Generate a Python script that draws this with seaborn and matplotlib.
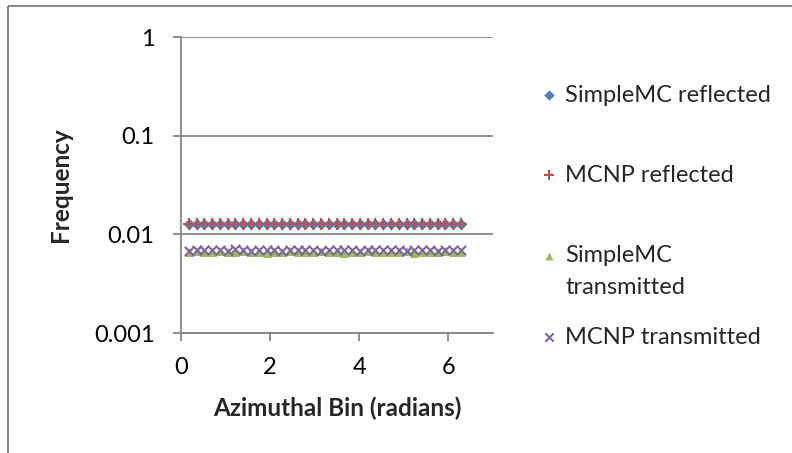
import matplotlib
matplotlib.use("Agg")
import matplotlib.pyplot as plt
from matplotlib.patches import Rectangle
import seaborn as sns
import pandas as pd

# Azimuthal bin positions (radians), 36 bins over 0..2*pi
bins = [0.175, 0.349, 0.524, 0.698, 0.873, 1.047, 1.222, 1.396, 1.571, 1.745,
        1.920, 2.094, 2.269, 2.443, 2.618, 2.793, 2.967, 3.142, 3.316, 3.491,
        3.665, 3.840, 4.014, 4.189, 4.363, 4.538, 4.712, 4.887, 5.061, 5.236,
        5.411, 5.585, 5.760, 5.934, 6.109, 6.283]

simplemc_reflected = [0.0127, 0.0126, 0.0127, 0.0128, 0.0127, 0.0126, 0.0127, 0.0127, 0.0126, 0.0127,
                      0.0128, 0.0127, 0.0126, 0.0127, 0.0127, 0.0126, 0.0127, 0.0128, 0.0127, 0.0126,
                      0.0127, 0.0127, 0.0128, 0.0126, 0.0127, 0.0127, 0.0126, 0.0127, 0.0128, 0.0127,
                      0.0126, 0.0127, 0.0127, 0.0126, 0.0127, 0.0127]
mcnp_reflected = [0.0127, 0.0127, 0.0126, 0.0127, 0.0127, 0.0127, 0.0126, 0.0127, 0.0127, 0.0127,
                  0.0127, 0.0126, 0.0127, 0.0127, 0.0127, 0.0127, 0.0126, 0.0127, 0.0127, 0.0127,
                  0.0126, 0.0127, 0.0127, 0.0127, 0.0127, 0.0126, 0.0127, 0.0127, 0.0127, 0.0126,
                  0.0127, 0.0127, 0.0127, 0.0127, 0.0126, 0.0127]
simplemc_transmitted = [0.0066, 0.0067, 0.0066, 0.0066, 0.0067, 0.0066, 0.0066, 0.0067, 0.0066, 0.0066,
                        0.0065, 0.0066, 0.0066, 0.0067, 0.0066, 0.0066, 0.0066, 0.0067, 0.0066, 0.0066,
                        0.0065, 0.0066, 0.0066, 0.0067, 0.0066, 0.0066, 0.0066, 0.0066, 0.0067, 0.0065,
                        0.0066, 0.0066, 0.0066, 0.0067, 0.0066, 0.0066]
mcnp_transmitted = [0.0068, 0.0069, 0.0069, 0.0070, 0.0069, 0.0068, 0.0071, 0.0069, 0.0068, 0.0069,
                    0.0069, 0.0069, 0.0068, 0.0069, 0.0069, 0.0069, 0.0069, 0.0068, 0.0069, 0.0069,
                    0.0069, 0.0069, 0.0068, 0.0070, 0.0069, 0.0069, 0.0069, 0.0069, 0.0068, 0.0069,
                    0.0069, 0.0069, 0.0068, 0.0069, 0.0069, 0.0069]

series = [
    ("SimpleMC reflected", ["SimpleMC reflected"], simplemc_reflected, "D", "#4F81BD", 36),
    ("MCNP reflected", ["MCNP reflected"], mcnp_reflected, "+", "#C0504D", 70),
    ("SimpleMC transmitted", ["SimpleMC", "transmitted"], simplemc_transmitted, "^", "#9BBB59", 42),
    ("MCNP transmitted", ["MCNP transmitted"], mcnp_transmitted, "x", "#8064A2", 45),
]

y_ticks = [0.001, 0.01, 0.1, 1]
y_tick_labels = ["0.001", "0.01", "0.1", "1"]
x_ticks = [0, 2, 4, 6]

sns.set_theme(style="white")
plt.rcParams["font.family"] = ["Lato", "DejaVu Sans"]

grey = "#868686"
fs = 17
fig = plt.figure(figsize=(7.92, 4.53), dpi=100)
ax = fig.add_axes([181 / 792, 1 - 333 / 453, (493 - 181) / 792, (333 - 37) / 453])

for name, _, vals, mk, col, sz in series:
    df = pd.DataFrame({"bin": bins, "freq": vals})
    lw = 1.5 if mk in ("+", "x") else 0
    sns.scatterplot(data=df, x="bin", y="freq", marker=mk, color=col, s=sz,
                    linewidth=lw, ax=ax, zorder=3, legend=False)

ax.set_yscale("log")
ax.set_ylim(0.001, 1)
ax.set_xlim(0, 7)
ax.set_yticks(y_ticks)
ax.set_yticklabels(y_tick_labels)
ax.set_xticks(x_ticks)
ax.minorticks_off()
ax.yaxis.grid(True, color=grey, linewidth=1.3)
ax.xaxis.grid(False)
for s in ("top", "right"):
    ax.spines[s].set_visible(False)
for s in ("left", "bottom"):
    ax.spines[s].set_color(grey)
    ax.spines[s].set_linewidth(1.3)
ax.tick_params(axis="y", direction="out", length=6, width=1.3, color=grey,
               pad=13, labelsize=fs, labelcolor="black", left=True)
ax.tick_params(axis="x", direction="out", length=6, width=1.3, color=grey,
               pad=11, labelsize=fs, labelcolor="black", bottom=True)
ax.set_xlabel("Azimuthal Bin (radians)", fontsize=17.5, fontweight="bold", va="center")
ax.set_ylabel("Frequency", fontsize=17.5, fontweight="bold", va="center")
ax.xaxis.set_label_coords(0.5, (333 - 408) / 296)
ax.yaxis.set_label_coords((60 - 181) / 312, 0.5)
ax.set_facecolor("none")

# Legend and chart border drawn in a pixel-coordinate overlay
lax = fig.add_axes([0, 0, 1, 1], zorder=-1)
lax.set_xlim(0, 792)
lax.set_ylim(453, 0)
lax.set_axis_off()
lax.add_patch(Rectangle((8, 6), 800, 460, fill=False, edgecolor=grey, linewidth=1.4))

legend_rows = [95, 175, 256, 337]
line_step = 31
for (name, lines, vals, mk, col, sz), yy in zip(series, legend_rows):
    lw = 1.5 if mk in ("+", "x") else 0
    lax.scatter([549], [yy], marker=mk, color=col, s=sz * 0.8, linewidths=lw)
    for i, line in enumerate(lines):
        lax.text(565, yy + i * line_step, line, fontsize=fs, va="center", ha="left")

fig.savefig("out.png", dpi=100)
